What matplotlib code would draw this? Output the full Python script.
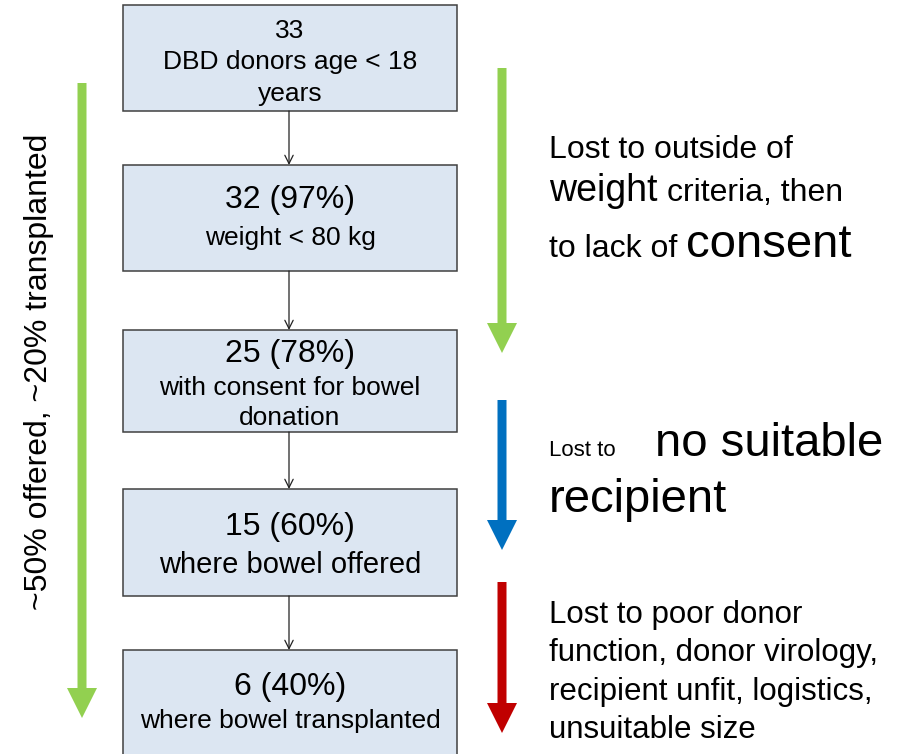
import matplotlib.pyplot as plt
from matplotlib.patches import Rectangle, FancyArrow

plt.rcParams['font.family'] = ['Liberation Sans', 'DejaVu Sans']

# flow chart data
counts = [33, 32, 25, 15, 6]
percents = [None, 97, 78, 60, 40]
descriptions = [
    'DBD donors age < 18\nyears',
    'weight < 80 kg',
    'with consent for bowel\ndonation',
    'where bowel offered',
    'where bowel transplanted',
]
side_label = '~50% offered, ~20% transplanted'

# layout in pixel coordinates (y goes down)
box_left, box_right = 123, 457
box_tops = [5, 165, 330, 489, 650]
box_bottoms = [111, 271, 432, 596, 762]
head_y = [31, 200, 354, 527, 687]
desc_y = [78, 238, 403, 565, 721]
desc_size = [19, 19, 19, 21, 19]
desc_spacing = [1.38, 1.1, 1.28, 1.1, 1.1]

green = '#92D050'
blue = '#0070C0'
red = '#C00000'

fig = plt.figure(figsize=(9.01, 7.54), dpi=100)
ax = fig.add_axes([0, 0, 1, 1])
ax.set_xlim(0, 901)
ax.set_ylim(754, 0)
ax.axis('off')

cx = (box_left + box_right) / 2
for i in range(len(counts)):
    ax.add_patch(Rectangle((box_left, box_tops[i]), box_right - box_left,
                           box_bottoms[i] - box_tops[i], facecolor='#DCE6F2',
                           edgecolor='#404040', linewidth=1.1, zorder=2))
    if percents[i] is None:
        header, hsize = str(counts[i]), 19
    else:
        header, hsize = '%d (%d%%)' % (counts[i], percents[i]), 23
    ax.text(cx, head_y[i], header, ha='center', va='center', fontsize=hsize, zorder=3)
    ax.text(cx, desc_y[i], descriptions[i], ha='center', va='center',
            fontsize=desc_size[i], linespacing=desc_spacing[i], zorder=3)
    if i > 0:
        ax.annotate('', xy=(cx - 1, box_tops[i]), xytext=(cx - 1, box_bottoms[i - 1]),
                    arrowprops=dict(arrowstyle='->,head_length=0.6,head_width=0.3',
                                    color='#222222', lw=0.9, shrinkA=0, shrinkB=0))


def big_arrow(x, y0, y1, color):
    ax.add_patch(FancyArrow(x, y0, 0, y1 - y0, width=9, head_width=30, head_length=30,
                            length_includes_head=True, color=color, linewidth=0))


big_arrow(82, 83, 718, green)
big_arrow(502, 68, 353, green)
big_arrow(502, 400, 550, blue)
big_arrow(502, 582, 733, red)

ax.text(39, 372, side_label, rotation=90, ha='center', va='center', fontsize=23)

# right-hand notes
tx = 549
ax.text(tx, 158, 'Lost to outside of', fontsize=23, va='baseline')
ax.text(tx, 201, 'weight', fontsize=27, va='baseline')
ax.text(667, 201, 'criteria, then', fontsize=23, va='baseline')
ax.text(tx, 257, 'to lack of', fontsize=23, va='baseline')
ax.text(686, 257, 'consent', fontsize=34, va='baseline')

ax.text(tx, 456, 'Lost to', fontsize=16, va='baseline')
ax.text(655, 456, 'no suitable', fontsize=34, va='baseline')
ax.text(tx, 512, 'recipient', fontsize=34, va='baseline')

red_lines = ['Lost to poor donor', 'function, donor virology,',
             'recipient unfit, logistics,', 'unsuitable size']
for k, line in enumerate(red_lines):
    ax.text(tx, 623 + 38.5 * k, line, fontsize=22.5, va='baseline')

fig.savefig('out.png', dpi=100)
